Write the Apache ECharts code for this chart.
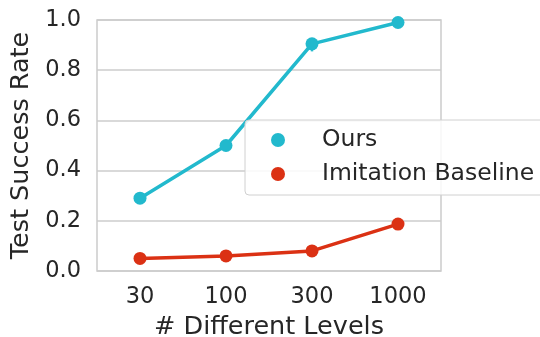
<!DOCTYPE html>
<html><head><meta charset="utf-8">
<script src="https://cdn.jsdelivr.net/npm/echarts@6/dist/echarts.min.js"></script>
<style>html,body{margin:0;padding:0;background:#fff}#c{width:540px;height:337px}</style>
</head><body><div id="c"></div>
<script>
var categories = ['30', '100', '300', '1000'];
var oursValues = [0.29, 0.50, 0.905, 0.99];
var imitationValues = [0.05, 0.06, 0.08, 0.187];
var oursErrLow = [0.29, 0.50, 0.875, 0.99];
var oursErrHigh = [0.29, 0.50, 0.925, 0.99];
var yTicks = [0.0, 0.2, 0.4, 0.6, 0.8, 1.0];

var font = 'DejaVu Sans';
var fsTick = 22.5, fsName = 25.5, fsLegend = 23.5;
var textColor = '#262626';
var cOurs = '#22b9cd';
var cImit = '#db3114';

var chart = echarts.init(document.getElementById('c'), null, {renderer: 'canvas'});
chart.setOption({
  animation: false,
  backgroundColor: '#fff',
  grid: {left: 97, right: 99, top: 20, bottom: 66, show: true, borderColor: '#cccccc', borderWidth: 1.5,
         backgroundColor: 'transparent', containLabel: false, outerBoundsMode: 'none'},
  legend: {
    data: ['Ours', 'Imitation Baseline'],
    orient: 'vertical', left: 245, top: 120,
    icon: 'circle', itemWidth: 14, itemHeight: 14, itemGap: 10,
    padding: [8, 40, 9, 26],
    backgroundColor: 'rgba(255,255,255,0.85)', borderColor: '#d0d0d0', borderWidth: 1, borderRadius: 4,
    textStyle: {fontFamily: font, fontSize: fsLegend, color: textColor, padding: [0, 0, 0, 32]}
  },
  xAxis: {
    type: 'category', data: categories, boundaryGap: true,
    name: '# Different Levels', nameLocation: 'middle', nameGap: 40,
    nameTextStyle: {fontFamily: font, fontSize: fsName, color: textColor},
    axisLine: {show: false}, axisTick: {show: false},
    axisLabel: {fontFamily: font, fontSize: fsTick, color: textColor, margin: 15}
  },
  yAxis: {
    type: 'value', min: 0, max: 1, interval: 0.2,
    name: 'Test Success Rate', nameLocation: 'middle', nameGap: 61,
    nameTextStyle: {fontFamily: font, fontSize: fsName, color: textColor},
    axisLine: {show: false}, axisTick: {show: false},
    splitLine: {lineStyle: {color: '#cccccc', width: 1.5}},
    axisLabel: {fontFamily: font, fontSize: fsTick, color: textColor, margin: 16,
      formatter: function (v) { var s = v.toFixed(1); return yTicks.indexOf(+s) >= 0 ? s : ''; }}
  },
  series: [
    {name: 'Ours', type: 'line', data: oursValues, color: cOurs, symbol: 'circle', symbolSize: 13,
     lineStyle: {width: 3.5}, z: 3},
    {name: 'Imitation Baseline', type: 'line', data: imitationValues, color: cImit, symbol: 'circle', symbolSize: 13,
     lineStyle: {width: 3.5}, z: 3},
    {name: 'err', type: 'custom', z: 4,
     data: categories.map(function (c, i) { return [i, oursErrLow[i], oursErrHigh[i]]; }),
     renderItem: function (params, api) {
       var p1 = api.coord([api.value(0), api.value(1)]);
       var p2 = api.coord([api.value(0), api.value(2)]);
       return {type: 'line', shape: {x1: p1[0], y1: p1[1], x2: p2[0], y2: p2[1]},
               style: {stroke: cOurs, lineWidth: 2.5}};
     }}
  ]
});
</script></body></html>
